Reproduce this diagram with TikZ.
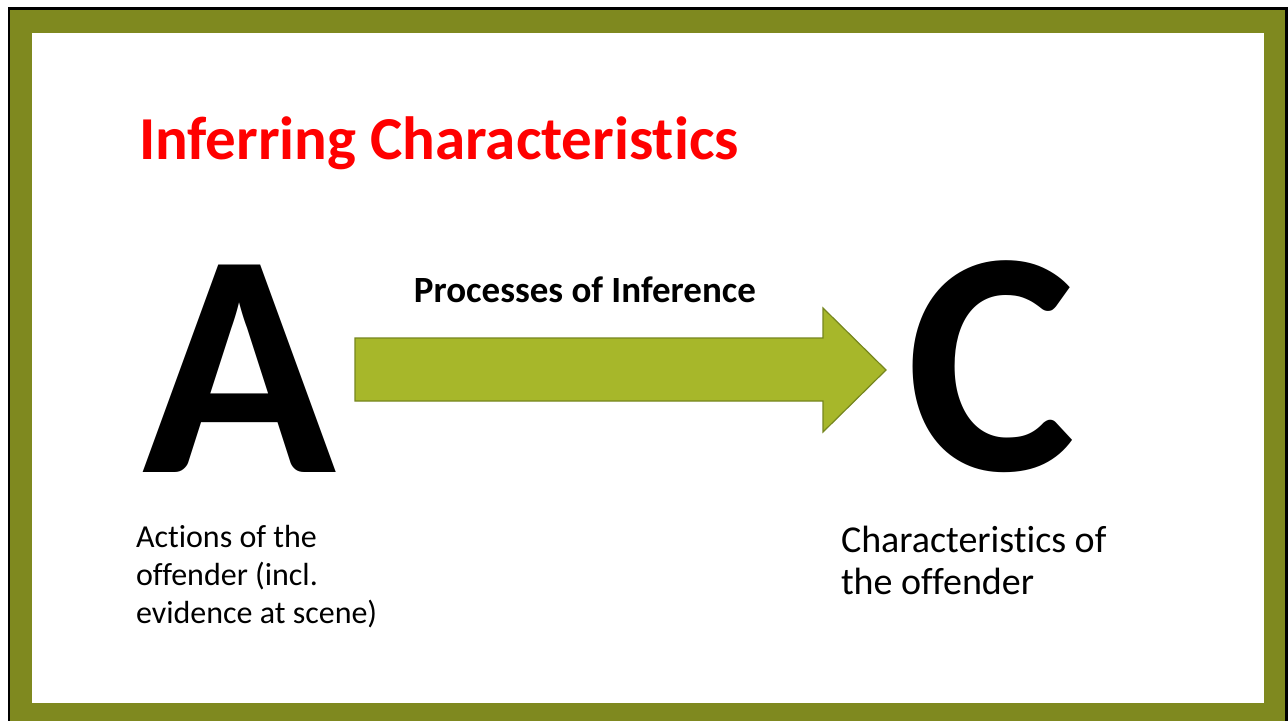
\documentclass[tikz,border=0pt]{standalone}
\usepackage{fontspec}
\setmainfont{Carlito}[Ligatures=NoCommon]
\usepackage{xcolor}
\usepackage{tikz}

\definecolor{slideolive}{RGB}{127,137,31}
\definecolor{arrowfill}{RGB}{167,183,42}
\definecolor{arrowline}{RGB}{118,134,30}
\definecolor{titlered}{RGB}{255,0,0}

\begin{document}
\begin{tikzpicture}[x=1pt,y=-1pt,
    every node/.style={inner sep=0pt,outer sep=0pt,anchor=base west},
    bigletter/.style={font=\fontsize{320}{320}\selectfont\bfseries},
    caption/.style={align=left,font=\fontsize{32}{38}\selectfont}]
  \useasboundingbox (0,0) rectangle (1288,721);
  % frame of the slide
  \fill[black] (8,7) rectangle (1288,721);
  \fill[slideolive] (10,10) rectangle (1285,721);
  \fill[white] (32,33) rectangle (1264,703);
  % title
  \node[text=titlered,font=\fontsize{61}{61}\selectfont\bfseries] (title) at (139,159) {Inferring Characteristics};
  % the two letters
  \node[bigletter] (actions) at (142,472) {A};
  \node[bigletter] (characteristics) at (906,470) {C};
  % block arrow
  \fill[arrowfill,draw=arrowline,line width=1.2pt,line join=miter]
    (355,338) -- (823,338) -- (823,308) -- (886,370) -- (823,432) -- (823,401) -- (355,401) -- cycle;
  \node[anchor=base,font=\fontsize{37}{37}\selectfont\bfseries] (process) at (585,302) {Processes of Inference};
  % captions (base anchor sits on the last line)
  \node[caption] (actionstext) at (136,623) {Actions of the\\offender (incl.\\evidence at scene)};
  \node[caption,font=\fontsize{38}{42}\selectfont] (chartext) at (841,594) {Characteristics of\\the offender};
\end{tikzpicture}
\end{document}
